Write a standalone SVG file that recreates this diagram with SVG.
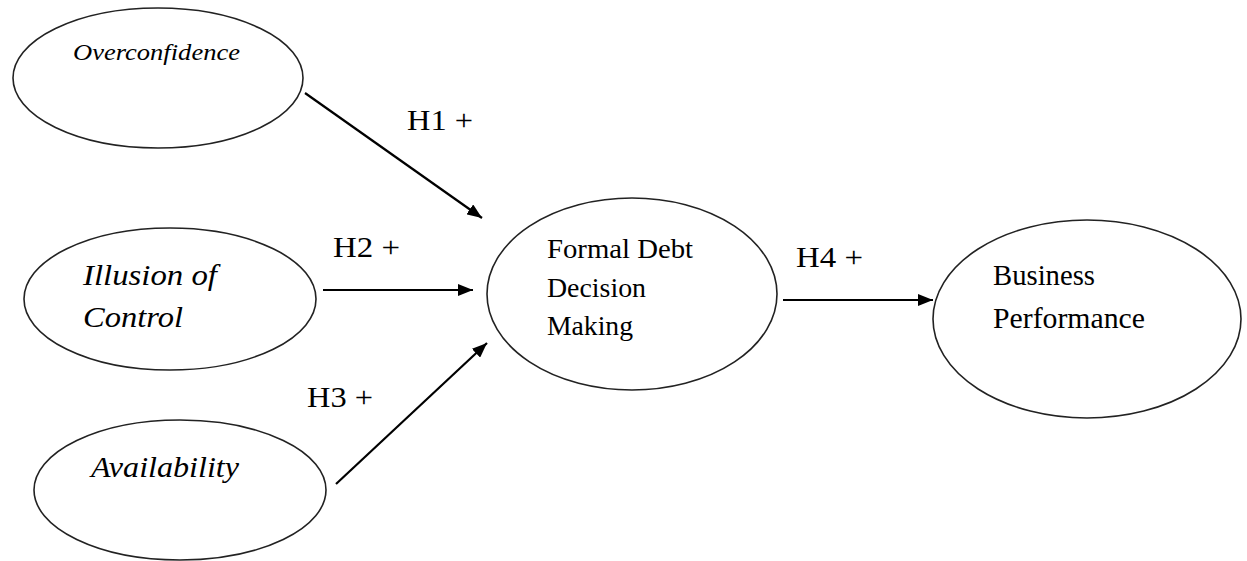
<svg xmlns="http://www.w3.org/2000/svg" width="1247" height="561" viewBox="0 0 1247 561">
<style>
.node ellipse{fill:#fff;stroke:#222;stroke-width:1.6}
.t{font-family:"Liberation Serif","Times New Roman",serif;fill:#000}
.i{font-style:italic}
.conn line{stroke:#000;stroke-width:2.2;marker-end:url(#ah)}
</style>
<defs>
<marker id="ah" markerUnits="userSpaceOnUse" markerWidth="16" markerHeight="12" refX="15" refY="6" orient="auto">
<path d="M0,0 L15,6 L0,12 z" fill="#000"/>
</marker>
</defs>
<rect width="1247" height="561" fill="#fff"/>
<g id="n-overconfidence" class="node">
<ellipse cx="158" cy="78" rx="145" ry="70"/>
<text class="t i" x="73" y="60" font-size="23" textLength="167" lengthAdjust="spacingAndGlyphs">Overconfidence</text>
</g>
<g id="n-illusion" class="node">
<ellipse cx="170" cy="299" rx="146" ry="71"/>
<text class="t i" x="83" y="285" font-size="30" textLength="134" lengthAdjust="spacingAndGlyphs">Illusion of</text>
<text class="t i" x="83" y="327" font-size="30" textLength="100" lengthAdjust="spacingAndGlyphs">Control</text>
</g>
<g id="n-availability" class="node">
<ellipse cx="180" cy="490" rx="146" ry="70"/>
<text class="t i" x="91" y="477" font-size="30" textLength="148" lengthAdjust="spacingAndGlyphs">Availability</text>
</g>
<g id="n-formal" class="node">
<ellipse cx="632" cy="294" rx="145" ry="96"/>
<text class="t" x="547" y="258" font-size="28" textLength="146" lengthAdjust="spacingAndGlyphs">Formal Debt</text>
<text class="t" x="547" y="297" font-size="28" textLength="99" lengthAdjust="spacingAndGlyphs">Decision</text>
<text class="t" x="547" y="335" font-size="28" textLength="86" lengthAdjust="spacingAndGlyphs">Making</text>
</g>
<g id="n-business" class="node">
<ellipse cx="1087" cy="319" rx="154" ry="99"/>
<text class="t" x="993" y="285" font-size="29" textLength="102" lengthAdjust="spacingAndGlyphs">Business</text>
<text class="t" x="993" y="328" font-size="29" textLength="152" lengthAdjust="spacingAndGlyphs">Performance</text>
</g>
<g id="connectors" class="conn">
<line x1="305" y1="93" x2="482" y2="218"/>
<line x1="323" y1="290" x2="473" y2="290"/>
<line x1="336" y1="484" x2="487" y2="343"/>
<line x1="783" y1="300" x2="933" y2="300"/>
<text class="t" x="407" y="130" font-size="30" textLength="66" lengthAdjust="spacingAndGlyphs">H1 +</text>
<text class="t" x="333" y="257" font-size="30" textLength="67" lengthAdjust="spacingAndGlyphs">H2 +</text>
<text class="t" x="307" y="407" font-size="30" textLength="66" lengthAdjust="spacingAndGlyphs">H3 +</text>
<text class="t" x="796" y="267" font-size="30" textLength="67" lengthAdjust="spacingAndGlyphs">H4 +</text>
</g>
</svg>
